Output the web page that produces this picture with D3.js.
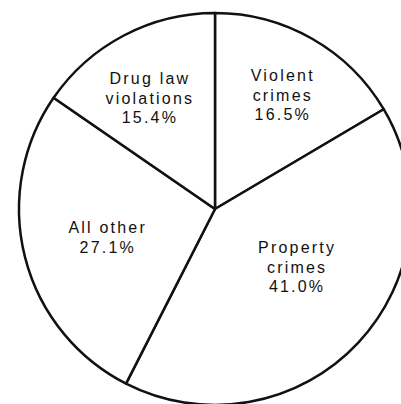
<!DOCTYPE html>
<html lang="en">
<head>
<meta charset="utf-8">
<title>Arrests by offense</title>
<style>
  body { margin:0; background:white; }
  svg { display:block; }
  .lbl { font-family: 'Liberation Sans', Arial, sans-serif; font-size:16px; letter-spacing:2.2px; fill:#111; }
</style>
</head>
<body>
<div id="canvas"></div>
<script src="https://cdnjs.cloudflare.com/ajax/libs/d3/7.8.5/d3.min.js"></script>
<script>
// categories, clockwise from 12 o'clock
var categories = ["Violent crimes", "Property crimes", "All other", "Drug law violations"];
var shares = [16.5, 41.0, 27.1, 15.4];
var labelLines = [["Violent", "crimes", "16.5%"],
                  ["Property", "crimes", "41.0%"],
                  ["All other", "27.1%"],
                  ["Drug law", "violations", "15.4%"]];

// label placement: radius from center and angle nudge (degrees) from slice middle
var labelLayout = [{r:132, da:0.7}, {r:100, da:-7.4}, {r:112, da:-0.6}, {r:129, da:-3.1}];

var W = 401, H = 404,
    cx = 215, cy = 209,
    radius = 196,
    lineH = 19.5;

var svg = d3.select("#canvas").append("svg")
    .attr("width", W)
    .attr("height", H);

var g = svg.append("g")
    .attr("transform", "translate(" + cx + "," + cy + ")");

var data = categories.map(function(c, i) { return {name:c, value:shares[i], lines:labelLines[i], lay:labelLayout[i]}; });

var pie = d3.pie().sort(null).value(function(d) { return d.value; });
var arc = d3.arc().innerRadius(0).outerRadius(radius);

g.selectAll("path.slice")
  .data(pie(data))
  .enter().append("path")
    .attr("class", "slice")
    .attr("d", arc)
    .attr("fill", "white")
    .attr("stroke", "#111")
    .attr("stroke-width", 2.5)
    .attr("stroke-linejoin", "round");

var labels = g.selectAll("g.label")
  .data(pie(data))
  .enter().append("g")
    .attr("class", "label")
    .attr("transform", function(d) {
      var a = (d.startAngle + d.endAngle) / 2 + d.data.lay.da * Math.PI / 180;
      var r = d.data.lay.r;
      return "translate(" + (Math.sin(a) * r) + "," + (-Math.cos(a) * r) + ")";
    });

labels.each(function(d) {
  var n = d.data.lines.length;
  var sel = d3.select(this);
  d.data.lines.forEach(function(t, i) {
    sel.append("text")
      .attr("class", "lbl")
      .attr("text-anchor", "middle")
      .attr("x", 1)
      .attr("y", (i - (n - 1) / 2) * lineH + 5.5)
      .text(t);
  });
});
</script>
</body>
</html>
